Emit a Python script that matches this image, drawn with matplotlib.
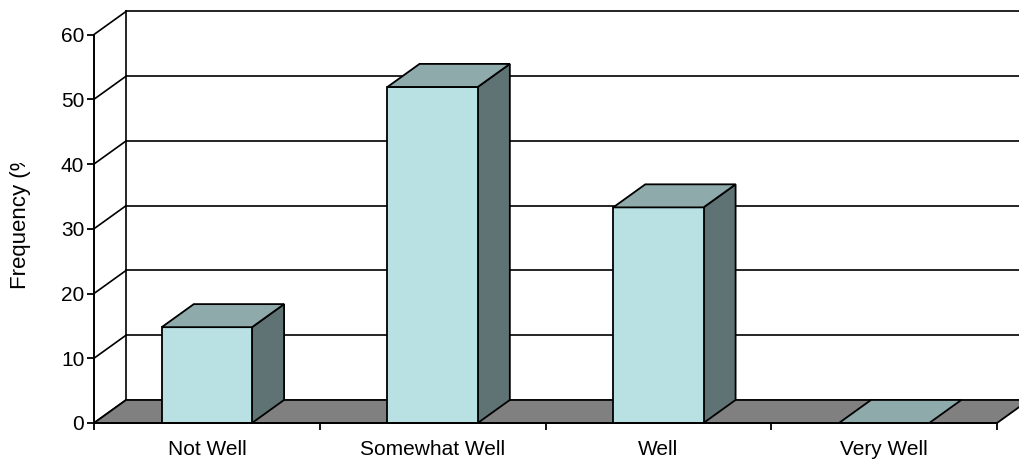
import matplotlib
matplotlib.use('Agg')
import matplotlib.pyplot as plt
from matplotlib.patches import Polygon, Rectangle
from matplotlib.transforms import Bbox, TransformedBbox

categories = ["Not Well", "Somewhat Well", "Well", "Very Well"]
frequency = [14.8, 51.9, 33.3, 0.0]
y_ticks = [0, 10, 20, 30, 40, 50, 60]

# depth of the 3d box, in data units
DX = 0.142
DY = 3.56
BAR_W = 0.4

front_col = '#b9e0e3'
top_col = '#8faaab'
side_col = '#5f7274'
floor_col = '#808080'

plt.rcParams['font.family'] = ['Liberation Sans', 'DejaVu Sans']


def main():
    fig = plt.figure(figsize=(10.19, 4.59), dpi=100)
    ax = fig.add_axes([94 / 1019, 36 / 459, 903 / 1019, 388.5 / 459])
    ax.set_xlim(0, len(categories))
    ax.set_ylim(0, 60)
    ax.patch.set_visible(False)

    n = len(categories)
    # back wall grid + side wall diagonals
    for v in y_ticks:
        ax.plot([0, DX], [v, v + DY], color='black', lw=1.2, clip_on=False, zorder=1)
        if v > 0:
            ax.plot([DX, n + DX], [v + DY, v + DY], color='black', lw=1.2, clip_on=False, zorder=1)
    ax.plot([DX, DX], [DY, 60 + DY], color='black', lw=1.2, clip_on=False, zorder=1)

    # floor
    ax.add_patch(Polygon([(0, 0), (n, 0), (n + DX, DY), (DX, DY)], closed=True,
                         facecolor=floor_col, edgecolor='black', lw=1.3, clip_on=False, zorder=2))

    # bars
    for i, v in enumerate(frequency):
        x0 = i + 0.5 - BAR_W / 2
        x1 = i + 0.5 + BAR_W / 2
        if v > 0:
            ax.add_patch(Polygon([(x1, 0), (x1 + DX, DY), (x1 + DX, v + DY), (x1, v)], closed=True,
                                 facecolor=side_col, edgecolor='black', lw=1.3, clip_on=False, zorder=3))
            ax.add_patch(Rectangle((x0, 0), BAR_W, v, facecolor=front_col, edgecolor='black',
                                   lw=1.3, clip_on=False, zorder=3))
        ax.add_patch(Polygon([(x0, v), (x1, v), (x1 + DX, v + DY), (x0 + DX, v + DY)], closed=True,
                             facecolor=top_col, edgecolor='black', lw=1.3, clip_on=False, zorder=3))

    for s in ['top', 'right']:
        ax.spines[s].set_visible(False)
    for s in ['left', 'bottom']:
        ax.spines[s].set_linewidth(1.4)
        ax.spines[s].set_zorder(4)

    ax.set_yticks(y_ticks)
    ax.tick_params(axis='y', direction='out', length=5, width=1.3, pad=2, labelsize=15)
    ax.set_xticks(range(n + 1))
    ax.set_xticklabels([])
    ax.set_xticks([i + 0.5 for i in range(n)], minor=True)
    ax.set_xticklabels(categories, minor=True)
    ax.tick_params(axis='x', which='major', direction='out', length=5, width=1.3)
    ax.tick_params(axis='x', which='minor', length=0, pad=12, labelsize=15)

    t = fig.text(21 / 1019, 170 / 459, "Frequency (%)", rotation=90, ha='center', va='bottom', fontsize=16)
    t.set_clip_box(TransformedBbox(Bbox([[0, 0], [1, 296 / 459]]), fig.transFigure))
    t.set_clip_on(True)

    fig.savefig('out.png', dpi=100)


if __name__ == '__main__':
    main()
